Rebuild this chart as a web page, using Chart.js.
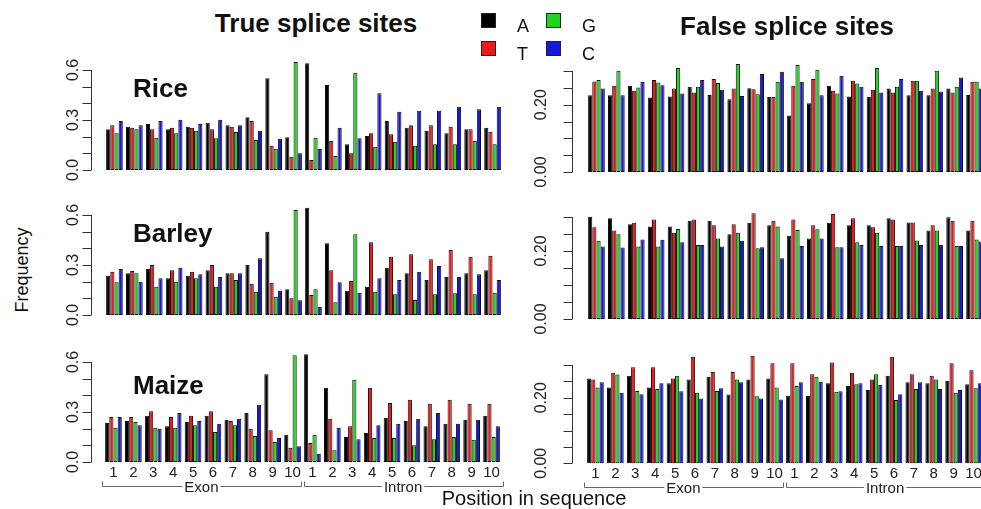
<!DOCTYPE html>
<html>
<head>
<meta charset="utf-8">
<script src="https://cdn.jsdelivr.net/npm/chart.js@4/dist/chart.umd.min.js"></script>
<style>
  html, body { margin: 0; padding: 0; width: 981px; height: 509px; overflow: hidden; background: #fff; }
  body { position: relative; font-family: "Liberation Sans", Arial, sans-serif; color: #111; }
  canvas { position: absolute; }
  .txt { position: absolute; white-space: nowrap; line-height: 1; }
  .sw { position: absolute; width: 15px; height: 15px; border: 1px solid #222; box-sizing: border-box; }
</style>
</head>
<body>
<script>
// positions along the sequence (exon 1-10, then intron 1-10)
const positions = ['1','2','3','4','5','6','7','8','9','10','1','2','3','4','5','6','7','8','9','10'];
const bases = ['A', 'T', 'G', 'C'];
const baseColors = ['#000000', '#ee1a1a', '#22d222', '#1818dc'];

// y axis ticks
const trueTicks = [0, 0.1, 0.2, 0.3, 0.4, 0.5, 0.6];
const trueTickLabels = [0, 0.3, 0.6];
const falseTicks = [0, 0.05, 0.1, 0.15, 0.2, 0.25, 0.3];
const falseTickLabels = [0, 0.2];

// Rice, true splice sites
const riceTrueA = [0.244,0.26,0.276,0.244,0.26,0.284,0.268,0.316,0.55,0.196, 0.64,0.51,0.154,0.204,0.294,0.254,0.236,0.22,0.244,0.254];
const riceTrueT = [0.268,0.254,0.244,0.254,0.254,0.244,0.26,0.294,0.146,0.08, 0.06,0.174,0.10,0.22,0.214,0.268,0.268,0.26,0.244,0.23];
const riceTrueG = [0.22,0.244,0.194,0.22,0.236,0.19,0.228,0.18,0.128,0.648, 0.194,0.084,0.584,0.14,0.17,0.146,0.154,0.154,0.174,0.154];
const riceTrueC = [0.294,0.268,0.294,0.302,0.276,0.302,0.268,0.236,0.188,0.10, 0.126,0.254,0.19,0.46,0.35,0.356,0.356,0.38,0.364,0.38];

// Barley, true splice sites
const barleyTrueA = [0.236,0.25,0.276,0.22,0.236,0.268,0.25,0.30,0.50,0.154, 0.644,0.43,0.146,0.17,0.284,0.25,0.21,0.228,0.25,0.268];
const barleyTrueT = [0.26,0.264,0.30,0.268,0.26,0.30,0.25,0.188,0.194,0.10, 0.12,0.268,0.204,0.436,0.35,0.364,0.334,0.39,0.35,0.356];
const barleyTrueG = [0.196,0.25,0.17,0.20,0.22,0.17,0.21,0.14,0.11,0.63, 0.154,0.076,0.484,0.14,0.124,0.09,0.124,0.13,0.124,0.134];
const barleyTrueC = [0.276,0.20,0.22,0.284,0.244,0.228,0.25,0.34,0.146,0.088, 0.05,0.196,0.134,0.22,0.21,0.26,0.294,0.228,0.244,0.21];

// Maize, true splice sites
const maizeTrueA = [0.234,0.246,0.278,0.214,0.24,0.278,0.254,0.294,0.526,0.164, 0.646,0.446,0.15,0.174,0.266,0.246,0.214,0.23,0.254,0.278];
const maizeTrueT = [0.27,0.27,0.304,0.27,0.278,0.304,0.246,0.20,0.19,0.086, 0.114,0.26,0.214,0.446,0.354,0.374,0.35,0.374,0.35,0.35];
const maizeTrueG = [0.206,0.24,0.206,0.206,0.22,0.18,0.22,0.156,0.12,0.64, 0.164,0.07,0.494,0.144,0.144,0.10,0.136,0.15,0.134,0.15];
const maizeTrueC = [0.27,0.22,0.20,0.294,0.246,0.23,0.26,0.344,0.144,0.094, 0.05,0.206,0.136,0.22,0.23,0.26,0.294,0.23,0.254,0.214];

// Rice, false splice sites
const riceFalseA = [0.228,0.228,0.256,0.221,0.224,0.253,0.229,0.216,0.249,0.223, 0.168,0.204,0.256,0.224,0.223,0.248,0.228,0.228,0.248,0.229];
const riceFalseT = [0.269,0.256,0.241,0.273,0.248,0.236,0.276,0.248,0.246,0.223, 0.256,0.276,0.241,0.271,0.244,0.236,0.271,0.248,0.236,0.268];
const riceFalseG = [0.273,0.301,0.251,0.266,0.309,0.253,0.264,0.321,0.231,0.268, 0.318,0.304,0.233,0.263,0.309,0.253,0.271,0.301,0.253,0.268];
const riceFalseC = [0.248,0.228,0.268,0.258,0.233,0.273,0.244,0.226,0.291,0.298, 0.268,0.228,0.286,0.253,0.236,0.276,0.241,0.239,0.281,0.248];

// Barley, false splice sites
const barleyFalseA = [0.301,0.296,0.279,0.272,0.272,0.289,0.289,0.249,0.283,0.276, 0.245,0.237,0.283,0.276,0.276,0.296,0.284,0.26,0.299,0.26];
const barleyFalseT = [0.27,0.26,0.283,0.293,0.254,0.293,0.276,0.279,0.311,0.289, 0.293,0.276,0.309,0.296,0.27,0.293,0.284,0.276,0.289,0.289];
const barleyFalseG = [0.23,0.249,0.213,0.213,0.265,0.218,0.237,0.254,0.208,0.272, 0.262,0.264,0.211,0.226,0.254,0.215,0.231,0.26,0.215,0.234];
const barleyFalseC = [0.213,0.21,0.234,0.233,0.226,0.218,0.213,0.23,0.211,0.179, 0.215,0.237,0.211,0.218,0.215,0.215,0.218,0.218,0.215,0.228];

// Maize, false splice sites
const maizeFalseA = [0.259,0.231,0.267,0.231,0.244,0.256,0.264,0.21,0.256,0.259, 0.206,0.206,0.244,0.236,0.224,0.267,0.247,0.244,0.252,0.241];
const maizeFalseT = [0.256,0.276,0.293,0.293,0.259,0.325,0.279,0.279,0.328,0.305, 0.305,0.272,0.308,0.276,0.256,0.325,0.272,0.267,0.305,0.284];
const maizeFalseG = [0.231,0.271,0.221,0.227,0.267,0.215,0.221,0.256,0.205,0.231, 0.236,0.264,0.218,0.241,0.272,0.193,0.227,0.256,0.215,0.229];
const maizeFalseC = [0.247,0.215,0.211,0.244,0.22,0.198,0.229,0.247,0.198,0.195, 0.247,0.249,0.22,0.244,0.239,0.211,0.247,0.227,0.224,0.244];

const FONT = '"Liberation Sans", Arial, sans-serif';

// R-style axis: detached y axis with rotated labels, numbers and brackets under the bottom row
const rAxis = {
  id: 'rAxis',
  afterDatasetsDraw(chart, args, o) {
    const ctx = chart.ctx;
    const y = chart.scales.y, x = chart.scales.x;
    ctx.save();
    ctx.strokeStyle = '#333';
    ctx.lineWidth = 1;
    const ax = Math.round(o.axisX) + 0.5;
    ctx.beginPath();
    ctx.moveTo(ax, y.getPixelForValue(o.ticks[0]));
    ctx.lineTo(ax, y.getPixelForValue(o.ticks[o.ticks.length - 1]));
    o.ticks.forEach(t => {
      const py = Math.round(y.getPixelForValue(t)) + 0.5;
      ctx.moveTo(ax, py);
      ctx.lineTo(ax - o.tickLen, py);
    });
    ctx.stroke();

    ctx.fillStyle = '#222';
    ctx.font = '16px ' + FONT;
    ctx.textAlign = 'center';
    ctx.textBaseline = 'alphabetic';
    o.labels.forEach(t => {
      ctx.save();
      ctx.translate(ax - o.labelGap, y.getPixelForValue(t));
      ctx.rotate(-Math.PI / 2);
      ctx.fillText(t.toFixed(o.digits), 0, 0);
      ctx.restore();
    });

    if (o.bottom) {
      const zero = y.getPixelForValue(0);
      ctx.font = '15px ' + FONT;
      positions.forEach((p, i) => ctx.fillText(p, x.getPixelForValue(i), zero + 15));

      const pitch = x.getPixelForValue(1) - x.getPixelForValue(0);
      const mid = (x.getPixelForValue(9) + x.getPixelForValue(10)) / 2;
      const by = Math.round(zero + 24) + 0.5;
      const spans = [
        ['Exon', x.getPixelForValue(0) - 0.56 * pitch, mid - 2],
        ['Intron', mid + 1, x.getPixelForValue(19) + 0.56 * pitch]
      ];
      ctx.strokeStyle = '#666';
      ctx.textBaseline = 'middle';
      spans.forEach(([name, a, b]) => {
        const c = (a + b) / 2;
        const half = ctx.measureText(name).width / 2 + 2;
        a = Math.round(a) + 0.5; b = Math.round(b) + 0.5;
        ctx.beginPath();
        ctx.moveTo(a, by - 5); ctx.lineTo(a, by); ctx.lineTo(c - half, by);
        ctx.moveTo(c + half, by); ctx.lineTo(b, by); ctx.lineTo(b, by - 5);
        ctx.stroke();
        ctx.fillText(name, c, by + 1);
      });
    }
    ctx.restore();
  }
};

// panel placement on the page
const panels = [
  { sets: [riceTrueA, riceTrueT, riceTrueG, riceTrueC], t: true,  left: 40,  top: 40,  w: 480, h: 150, chartL: 104.5, chartR: 502.5, zero: 170,   topPx: 70,  axisX: 91 },
  { sets: [barleyTrueA, barleyTrueT, barleyTrueG, barleyTrueC], t: true,  left: 40,  top: 190, w: 480, h: 145, chartL: 104.5, chartR: 502.5, zero: 315,   topPx: 215, axisX: 91 },
  { sets: [maizeTrueA, maizeTrueT, maizeTrueG, maizeTrueC], t: true,  left: 40,  top: 335, w: 480, h: 174, chartL: 103.5, chartR: 501.5, zero: 462,   topPx: 362, axisX: 91, bottom: true },
  { sets: [riceFalseA, riceFalseT, riceFalseG, riceFalseC], t: false, left: 525, top: 40,  w: 465, h: 150, chartL: 586.5, chartR: 984.5, zero: 172,   topPx: 71,  axisX: 572 },
  { sets: [barleyFalseA, barleyFalseT, barleyFalseG, barleyFalseC], t: false, left: 525, top: 190, w: 465, h: 145, chartL: 586.5, chartR: 984.5, zero: 319,   topPx: 217, axisX: 572 },
  { sets: [maizeFalseA, maizeFalseT, maizeFalseG, maizeFalseC], t: false, left: 525, top: 335, w: 465, h: 174, chartL: 585.5, chartR: 983.5, zero: 463.3, topPx: 365, axisX: 572, bottom: true }
];

panels.forEach(p => {
  const canvas = document.createElement('canvas');
  canvas.width = p.w;
  canvas.height = p.h;
  canvas.style.left = p.left + 'px';
  canvas.style.top = p.top + 'px';
  document.body.appendChild(canvas);

  new Chart(canvas, {
    type: 'bar',
    data: {
      labels: positions,
      datasets: p.sets.map((d, i) => ({
        label: bases[i],
        data: d,
        backgroundColor: baseColors[i],
        borderColor: '#111',
        borderWidth: 1,
        borderSkipped: false,
        categoryPercentage: 0.84,
        barPercentage: 1.0,
        clip: false
      }))
    },
    options: {
      responsive: false,
      animation: false,
      events: [],
      layout: {
        padding: {
          left: p.chartL - p.left,
          right: p.left + p.w - p.chartR,
          top: p.topPx - p.top,
          bottom: p.top + p.h - p.zero
        }
      },
      plugins: {
        legend: { display: false },
        tooltip: { enabled: false },
        rAxis: {
          axisX: p.axisX - p.left,
          ticks: p.t ? trueTicks : falseTicks,
          labels: p.t ? trueTickLabels : falseTickLabels,
          digits: p.t ? 1 : 2,
          tickLen: 9,
          labelGap: p.t ? 14 : 27,
          bottom: !!p.bottom
        }
      },
      scales: {
        x: { display: false },
        y: { display: false, min: 0, max: p.t ? 0.6 : 0.3 }
      }
    },
    plugins: [rAxis]
  });
});

// text around the panels
function addText(str, x, baseline, size, opts = {}) {
  const d = document.createElement('div');
  d.className = 'txt';
  d.textContent = str;
  d.style.fontSize = size + 'px';
  if (opts.bold) d.style.fontWeight = 'bold';
  d.style.top = (baseline - 0.8465 * size) + 'px';
  if (opts.center) { d.style.left = x + 'px'; d.style.transform = 'translateX(-50%)'; }
  else d.style.left = x + 'px';
  document.body.appendChild(d);
  return d;
}

addText('True splice sites', 316, 32, 26, { bold: true, center: true });
addText('False splice sites', 787, 35, 26, { bold: true, center: true });
addText('Rice', 133, 97, 26, { bold: true });
addText('Barley', 133, 242, 26, { bold: true });
addText('Maize', 133, 394, 26, { bold: true });
addText('Position in sequence', 534, 505, 20, { center: true });

const freq = document.createElement('div');
freq.className = 'txt';
freq.textContent = 'Frequency';
freq.style.fontSize = '18px';
freq.style.left = '22px';
freq.style.top = '270px';
freq.style.transform = 'translate(-50%, -50%) rotate(-90deg)';
document.body.appendChild(freq);

// legend
const legendSpots = [[481, 13], [481, 41], [546, 13], [546, 41]];
bases.forEach((b, i) => {
  const [lx, ly] = legendSpots[i];
  const s = document.createElement('div');
  s.className = 'sw';
  s.style.left = lx + 'px';
  s.style.top = ly + 'px';
  s.style.background = baseColors[i];
  document.body.appendChild(s);
  addText(b, lx + 36, ly + 19, 18);
});
</script>
</body>
</html>
